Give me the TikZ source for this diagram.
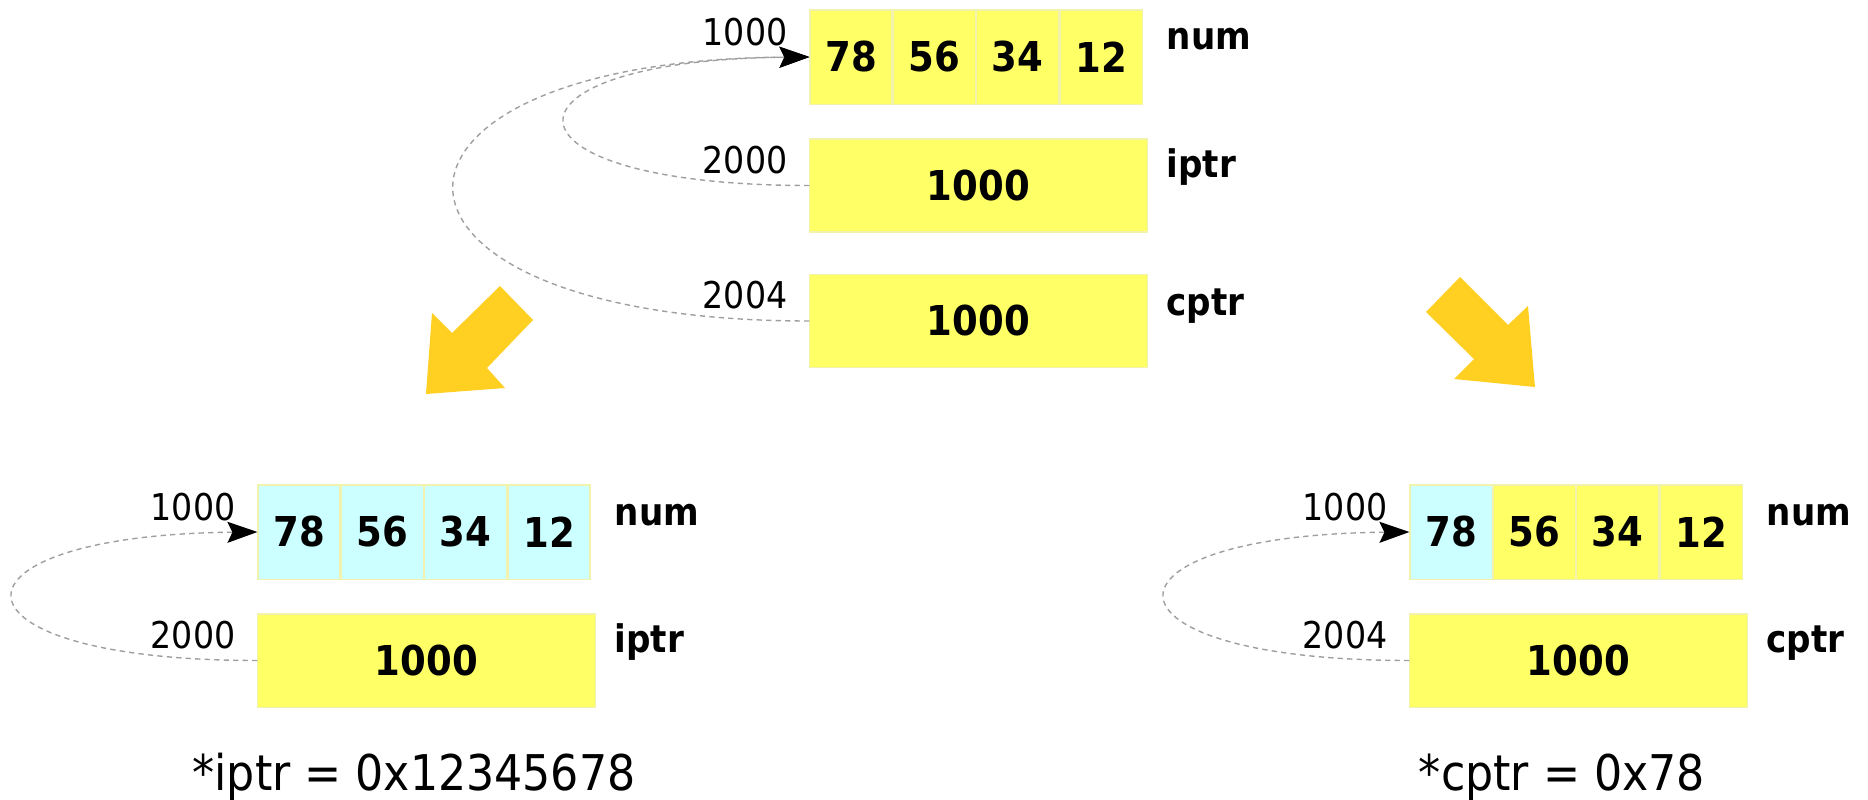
\documentclass[tikz,border=0pt]{standalone}
\usepackage{fontspec}
\setmainfont{DejaVu Sans Condensed}
\usetikzlibrary{arrows.meta}

\definecolor{memyellow}{RGB}{255,255,102}
\definecolor{memcyan}{RGB}{204,255,255}
\definecolor{cellline}{RGB}{242,242,175}
\definecolor{arrowgold}{RGB}{255,208,33}

\tikzset{
  cellbox/.style={fill=memyellow, draw=cellline, line width=0.3pt,
    minimum width=0.82cm, minimum height=0.94cm, inner sep=0pt,
    font=\bfseries\fontsize{11.7}{14}\selectfont},
  hitcell/.style={cellbox, fill=memcyan},
  ptrbox/.style={cellbox, minimum width=3.37cm, minimum height=0.93cm},
  addr/.style={anchor=base east, inner sep=0pt, font=\fontsize{10.5}{12}\selectfont},
  varname/.style={anchor=base west, inner sep=0pt, font=\bfseries\fontsize{10.8}{13}\selectfont},
  result/.style={anchor=base, inner sep=0pt, font=\fontsize{14}{17}\selectfont},
  ptrline/.style={draw=gray!75, line width=0.4pt, dash pattern=on 1.5pt off 1.2pt,
    -{Stealth[length=0.3cm, width=0.21cm, inset=0.05cm, black]}}
}

\begin{document}
\begin{tikzpicture}[x=0.01cm, y=-0.01cm]
    \useasboundingbox (0,0) rectangle (1868,800);

    % Memory before dereferencing
    \begin{scope}[shift={(810,10)}]
        \node[cellbox] (tnum1) at (41,47) {78};
        \node[cellbox] (tnum2) at (124.3,47) {56};
        \node[cellbox] (tnum3) at (207.7,47) {34};
        \node[cellbox] (tnum4) at (291,47) {12};
        \node[ptrbox] (tiptr) at (168.5,175.5) {1000};
        \node[ptrbox] (tcptr) at (168.5,311) {1000};
        \node[addr] (taddr1) at (-22,35) {1000};
        \node[addr] (taddr2) at (-22,163) {2000};
        \node[addr] (taddr3) at (-22,298) {2004};
        \node[varname] (tname1) at (356,40) {num};
        \node[varname] (tname2) at (356,167) {iptr};
        \node[varname] (tname3) at (356,305) {cptr};
        \draw[ptrline] (tiptr.west) .. controls (-325,175.5) and (-325,50) .. (tnum1.west);
        \draw[ptrline] (tcptr.west) .. controls (-472,311) and (-472,50) .. (tnum1.west);
    \end{scope}

    % Big arrows
    \fill[arrowgold] (500,286) -- (533,320) -- (487,368) -- (505,388) -- (426,394)
        -- (432,313) -- (452,333) -- cycle;
    \fill[arrowgold] (1460,277) -- (1508,325) -- (1528,306) -- (1535,387) -- (1454,379)
        -- (1474,359) -- (1426,312) -- cycle;

    % Int pointer reads four bytes
    \begin{scope}[shift={(258,485)}]
        \node[hitcell] (lnum1) at (41,47) {78};
        \node[hitcell] (lnum2) at (124.3,47) {56};
        \node[hitcell] (lnum3) at (207.7,47) {34};
        \node[hitcell] (lnum4) at (291,47) {12};
        \node[ptrbox] (liptr) at (168.5,175.5) {1000};
        \node[addr] (laddr1) at (-22,35) {1000};
        \node[addr] (laddr2) at (-22,163) {2000};
        \node[varname] (lname1) at (356,40) {num};
        \node[varname] (lname2) at (356,167) {iptr};
        \draw[ptrline] (liptr.west) .. controls (-325,175.5) and (-325,50) .. (lnum1.west);
    \end{scope}
    \node[result] (lres) at (414,790) {*iptr = 0x12345678};

    % Char pointer reads one byte
    \begin{scope}[shift={(1410,485)}]
        \node[hitcell] (rnum1) at (41,47) {78};
        \node[cellbox] (rnum2) at (124.3,47) {56};
        \node[cellbox] (rnum3) at (207.7,47) {34};
        \node[cellbox] (rnum4) at (291,47) {12};
        \node[ptrbox] (rcptr) at (168.5,175.5) {1000};
        \node[addr] (raddr1) at (-22,35) {1000};
        \node[addr] (raddr2) at (-22,163) {2004};
        \node[varname] (rname1) at (356,40) {num};
        \node[varname] (rname2) at (356,167) {cptr};
        \draw[ptrline] (rcptr.west) .. controls (-325,175.5) and (-325,50) .. (rnum1.west);
    \end{scope}
    \node[result] (rres) at (1562,790) {*cptr = 0x78};
\end{tikzpicture}
\end{document}
